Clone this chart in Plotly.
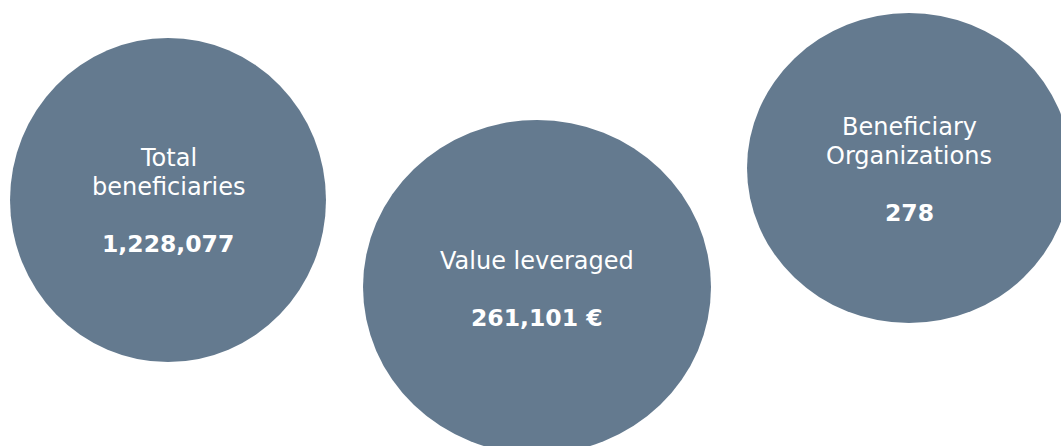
import plotly.graph_objects as go

# Data
labels = [["Total", "beneficiaries"], ["Value leveraged"], ["Beneficiary", "Organizations"]]
values = ["1,228,077", "261,101 €", "278"]

# Layout (pixel-space positions of each bubble)
centers_x = [168, 537, 909]
centers_y = [200, 287, 168]
radii_x = [158, 174, 162]
radii_y = [162, 167, 155]
value_y = [244, 318, 213]
line_gap = 28.5
label_to_value = 57.5

W, H = 1061, 446
FILL = "#647a8f"
FONT = "Verdana, DejaVu Sans, sans-serif"
FS_LABEL = 24
FS_VALUE = 23.5

fig = go.Figure()
fig.add_trace(go.Scatter(x=[0, W], y=[0, H], mode="markers",
                         marker=dict(opacity=0), hoverinfo="skip", showlegend=False))

shapes = []
annotations = []
for i in range(len(values)):
    cx, cy, rx, ry = centers_x[i], centers_y[i], radii_x[i], radii_y[i]
    shapes.append(dict(type="circle", xref="x", yref="y",
                       x0=cx - rx, x1=cx + rx, y0=cy - ry, y1=cy + ry,
                       fillcolor=FILL, line=dict(width=0), layer="below"))
    vy = value_y[i]
    annotations.append(dict(x=cx, y=vy, xref="x", yref="y", text="<b>" + values[i] + "</b>",
                            showarrow=False, xanchor="center", yanchor="middle",
                            font=dict(family=FONT, size=FS_VALUE, color="white")))
    lines = labels[i]
    n = len(lines)
    for j, ln in enumerate(lines):
        ly = vy - label_to_value - (n - 1 - j) * line_gap
        annotations.append(dict(x=cx, y=ly, xref="x", yref="y", text=ln,
                                showarrow=False, xanchor="center", yanchor="middle",
                                font=dict(family=FONT, size=FS_LABEL, color="white")))

fig.update_layout(
    width=W, height=H,
    margin=dict(l=0, r=0, t=0, b=0),
    paper_bgcolor="white", plot_bgcolor="white",
    xaxis=dict(range=[0, W], visible=False, fixedrange=True),
    yaxis=dict(range=[H, 0], visible=False, fixedrange=True),
    shapes=shapes, annotations=annotations, showlegend=False,
)
fig.write_html(
    "out.html",
    config={"displayModeBar": False},
    post_script="document.body.style.margin='0';document.body.style.overflow='hidden';",
)
